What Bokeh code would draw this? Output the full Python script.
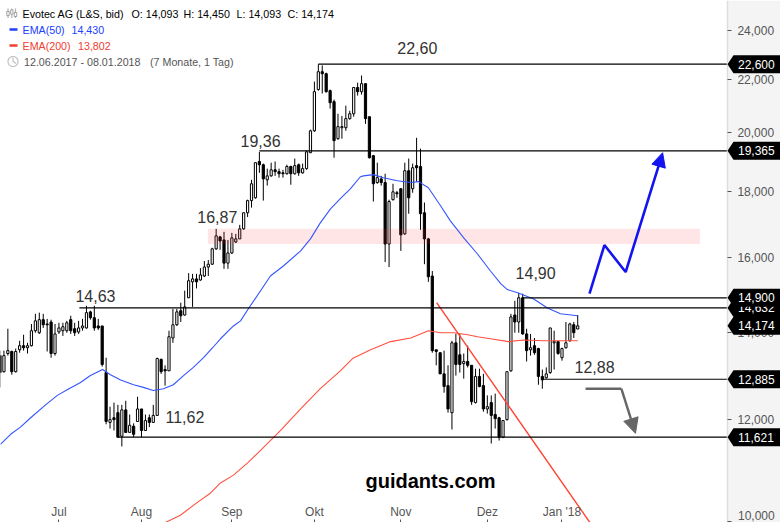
import numpy as np
from bokeh.plotting import figure
from bokeh.embed import file_html
from bokeh.resources import INLINE
from bokeh.core.properties import value
from bokeh.models import (Range1d, FixedTicker, LinearAxis, LogAxis, Label, PolyAnnotation,
                          Arrow, NormalHead)

ohlc_rows = """
13.44 13.56 12.70 13.04
13.06 13.56 13.04 13.44
13.49 14.10 13.44 13.56
13.54 13.56 12.99 13.06
13.06 13.61 13.04 13.54
13.58 13.80 13.51 13.68
13.68 13.95 13.56 13.63
13.63 13.75 13.49 13.68
13.68 14.22 13.66 14.05
14.05 14.48 14.00 14.30
14.00 14.51 13.97 14.33
14.33 14.48 14.12 14.20
14.22 14.35 13.54 14.20
14.27 14.33 13.39 13.49
13.49 14.22 13.44 13.97
14.02 14.25 13.97 14.12
14.05 14.25 13.92 14.15
14.05 14.30 14.00 14.25
14.33 14.43 13.97 14.05
14.10 14.25 13.92 14.00
14.02 14.30 13.97 14.12
14.12 14.35 14.05 14.17
14.12 14.69 14.10 14.51
14.53 14.56 14.33 14.38
14.38 14.69 14.05 14.12
14.17 14.35 14.07 14.12
14.17 14.17 13.18 13.23
13.04 13.39 11.89 11.95
11.93 12.27 11.80 11.99
12.03 12.36 11.76 11.99
12.14 12.31 11.62 11.62
11.64 12.31 11.43 12.20
12.20 12.40 11.72 11.72
11.72 12.10 11.72 11.87
11.85 11.91 11.62 11.68
11.95 12.49 11.95 12.22
12.22 12.22 11.62 11.76
11.76 12.10 11.76 11.97
12.03 12.10 11.83 11.93
11.93 12.31 11.93 12.08
12.08 13.39 12.08 13.37
13.35 13.37 13.01 13.06
13.11 13.21 12.74 13.08
13.08 14.05 13.08 13.90
13.87 14.61 13.75 14.20
14.20 14.61 14.17 14.53
14.56 14.77 14.27 14.43
14.45 15.09 14.43 14.66
14.90 15.57 14.90 15.36
15.33 15.55 14.66 15.41
15.41 15.55 15.15 15.33
15.38 15.71 15.36 15.52
15.49 15.91 15.46 15.74
15.74 15.94 15.49 15.82
15.82 16.29 15.80 16.26
16.26 16.85 16.23 16.64
16.61 16.64 16.23 16.49
16.52 16.76 15.69 15.85
15.85 16.52 15.69 16.14
16.14 16.73 16.11 16.58
16.46 16.70 16.43 16.55
16.55 16.97 16.55 16.85
16.85 17.34 16.82 17.34
17.34 17.75 17.21 17.72
17.72 18.39 17.50 18.26
17.81 18.96 17.78 18.96
19.00 19.33 18.62 18.89
18.89 18.93 17.72 18.42
18.39 18.76 18.20 18.52
18.52 18.96 18.49 18.72
18.72 19.00 18.52 18.66
18.66 18.76 18.46 18.59
18.62 18.72 18.46 18.59
18.59 18.89 18.56 18.83
18.83 18.86 18.23 18.59
18.59 19.10 18.56 18.86
18.89 18.93 18.52 18.62
18.62 18.93 18.59 18.76
18.76 19.37 18.72 19.33
19.30 20.11 19.30 20.07
20.07 21.91 20.03 21.52
21.60 22.60 21.56 22.30
22.30 22.55 21.45 22.22
22.22 22.26 21.48 21.52
21.56 21.60 20.88 21.10
21.14 21.22 19.13 19.72
19.79 20.69 19.75 20.22
20.18 20.61 19.79 20.22
20.18 20.99 20.07 20.51
20.51 20.80 20.47 20.69
20.69 21.68 20.58 21.68
21.68 21.87 21.37 21.52
21.52 22.15 21.41 21.83
21.83 21.83 20.32 20.51
20.58 20.58 19.10 19.13
19.20 19.20 17.69 18.26
18.30 18.96 18.26 18.46
18.42 18.52 18.20 18.30
18.30 18.59 15.88 16.40
16.40 17.75 15.74 17.69
17.75 18.26 17.72 18.00
17.97 18.03 17.81 17.94
18.10 18.10 16.20 16.67
16.70 18.96 16.67 18.69
18.69 19.10 17.31 17.81
18.10 18.93 17.97 18.79
18.86 19.82 18.33 18.79
18.83 19.44 16.82 17.31
17.34 17.66 15.82 16.55
16.55 16.58 15.33 15.47
15.49 15.63 13.51 13.56
13.58 13.58 13.21 13.54
13.51 13.51 13.01 13.01
13.01 13.56 12.58 12.72
12.74 13.21 12.14 12.22
12.14 13.80 11.78 13.75
13.75 13.97 12.97 13.23
13.46 13.97 13.04 13.23
13.25 13.49 12.90 13.30
13.30 13.68 13.16 13.21
13.21 13.21 12.31 12.38
12.36 13.13 12.34 12.95
12.95 13.13 12.70 12.72
12.74 13.01 12.16 12.22
12.22 12.52 12.12 12.27
12.36 12.52 11.49 12.08
12.10 12.56 11.80 12.01
12.03 12.05 11.55 11.62
11.62 11.97 11.60 11.97
11.99 13.06 11.97 13.06
13.08 14.48 13.06 14.40
14.45 14.82 14.00 14.27
14.27 15.03 14.00 14.90
14.90 15.01 13.95 13.97
13.97 14.10 13.30 13.56
13.58 13.97 13.44 13.63
13.68 13.87 13.46 13.51
13.61 13.63 12.76 12.95
12.95 13.11 12.67 12.87
12.92 13.16 12.90 13.01
13.04 14.12 13.01 14.12
13.75 14.05 13.11 13.78
13.78 13.80 13.46 13.49
13.39 13.63 13.32 13.61
13.63 14.27 13.61 13.75
13.80 14.25 13.78 14.22
14.20 14.27 13.87 14.00
14.093 14.45 14.093 14.174
"""
rows = [[float(v) for v in line.split()] for line in ohlc_rows.strip().splitlines()]
opens = [r[0] for r in rows]
highs = [r[1] for r in rows]
lows = [r[2] for r in rows]
closes = [r[3] for r in rows]

ema50_idx = [0.1,2.7,5.2,7.8,11.6,14.6,17.2,20.5,23,26.1,28.1,30.7,34,36.5,39,41.6,44.1,46.7,49.2,51.8,54.1,56.1,59.4,61.2,63.2,66.3,68.8,72.1,76.5,79,81.5,84.1,86.6,89.2,91.7,92.5,95,97.6,101.1,104.5,106.5,109,112.1,114.6,118,121.5,124.8,127.4,129.1,131.9,135.8,139.3,142.6,147]
ema50_val = [11.47,11.68,11.83,12.03,12.31,12.52,12.65,12.81,12.97,13.11,12.99,12.87,12.76,12.70,12.63,12.67,12.76,12.97,13.16,13.39,13.63,13.85,14.17,14.30,14.61,15.09,15.49,15.77,16.20,16.55,17.03,17.46,17.78,18.10,18.49,18.52,18.56,18.46,18.36,18.30,18.33,18.13,17.56,17.09,16.58,16.11,15.63,15.28,15.12,15.03,14.87,14.63,14.48,14.43]
ema200_idx = [42.1,45.9,50.3,53.6,56.1,59.4,63,66.3,71.4,76.5,81.5,86.6,89.7,94.3,99.4,104.5,107,109,112.1,115.4,119,121.5,124.8,129.4,133.2,138.3,147]
ema200_val = [9.98,10.11,10.35,10.52,10.71,10.86,11.10,11.35,11.76,12.22,12.67,13.08,13.37,13.58,13.78,13.87,13.97,14.05,14.00,14.00,13.95,13.90,13.85,13.78,13.82,13.80,13.80]

level_values = [22.6, 19.365, 14.632, 14.9, 12.885, 11.621]
level_starts = [81, 66, 20.2, 133, 138, 30]
tag_values = [14.632, 22.6, 19.365, 14.9, 14.174, 12.885, 11.621]
tag_labels = ["14,632", "22,600", "19,365", "14,900", "14,174", "12,885", "11,621"]
note_labels = ["22,60", "19,36", "16,87", "14,63", "14,90", "12,88", "11,62"]
note_idx = [101.1, 61.2, 50.2, 19.2, 131.2, 146.2, 42.1]
note_val = [23.26, 19.70, 17.2, 14.96, 15.56, 13.18, 12.04]
month_idx = [15, 36, 59, 80, 102, 124, 143]
month_labels = ["Jul", "Aug", "Sep", "Okt", "Nov", "Dez", "Jan '18"]
price_ticks = [10, 12, 14, 16, 18, 20, 22, 24]
price_labels = ["", "12,000", "14,000", "16,000", "18,000", "20,000", "22,000", "24,000"]
band_low, band_high = 16.4, 16.85
band_idx = [52.9, 178.1]
trend_idx = [111.1, 150.3]
trend_val = [14.77, 9.96]
up_idx = [150.0, 153.8, 159.2, 168.0]
up_val = [15.01, 16.37, 15.60, 19.03]
up_tip = (168.6, 19.3)
down_idx = [149.0, 158.1]
down_val = [12.67, 12.67]
down_tip = (161.7, 11.70)

x0_idx, axis_idx, x1_idx = 0.127, 185.1, 198.6
y_low, y_high = 9.98, 25.32

FONT = "Liberation Sans"
p = figure(width=780, height=522, output_backend="svg", toolbar_location=None,
           x_range=Range1d(x0_idx, x1_idx), y_range=Range1d(y_low, y_high), y_axis_type="log",
           x_axis_location=None, y_axis_location=None,
           min_border_left=0, min_border_top=0, min_border_bottom=0, min_border_right=0)
p.grid.visible = False
p.outline_line_color = None
p.background_fill_color = "#ffffff"
p.border_fill_color = "#ffffff"

# grey scale strip on the right
p.quad(left=[axis_idx], right=[x1_idx], bottom=[y_low], top=[y_high],
       fill_color="#f4f4f4", line_color=None)

yax = LogAxis(ticker=FixedTicker(ticks=price_ticks), fixed_location=axis_idx,
              major_label_overrides=dict(zip(price_ticks, price_labels)),
              major_label_text_font=FONT, major_label_text_font_size="12px",
              major_label_text_color="#555555", major_tick_out=4, major_tick_in=0,
              major_tick_line_color="#555555", minor_tick_line_color=None,
              axis_line_color="#dddddd", axis_line_width=1.5, major_label_standoff=6)
p.add_layout(yax, "right")
xax = LinearAxis(ticker=FixedTicker(ticks=month_idx),
                 major_label_overrides=dict(zip(month_idx, month_labels)),
                 major_label_text_font=FONT, major_label_text_font_size="12px",
                 major_label_text_color="#555555", major_tick_out=0, major_tick_in=3,
                 major_tick_line_color="#555555", minor_tick_line_color=None,
                 axis_line_color=None, major_label_standoff=-18)
p.add_layout(xax, "below")

idx = np.arange(len(opens))
o, h, l, c = map(np.array, (opens, highs, lows, closes))
up = c >= o
p.segment(idx, h, idx, l, color="#000000", line_width=1)
p.vbar(idx[up], 0.56, o[up], c[up], fill_color="#ffffff", line_color="#000000", line_width=1)
p.vbar(idx[~up], 0.56, c[~up], o[~up], fill_color="#000000", line_color="#000000", line_width=1)

p.quad(left=[band_idx[0]], right=[band_idx[1]], bottom=[band_low], top=[band_high],
       fill_color="#ff3333", fill_alpha=0.13, line_color=None)

p.line(ema50_idx, ema50_val, line_color="#3355ff", line_width=1.1)
p.line(ema200_idx, ema200_val, line_color="#ff5040", line_width=1.1)
p.line(trend_idx, trend_val, line_color="#ff4433", line_width=1.4)

p.segment(level_starts, level_values, [axis_idx] * len(level_values), level_values,
          line_color="#000000", line_width=1.2)

p.line(up_idx, up_val, line_color="#1414f0", line_width=2.6)
p.add_layout(Arrow(end=NormalHead(size=14, fill_color="#1414f0", line_color="#1414f0"),
                   x_start=up_idx[-1], y_start=up_val[-1], x_end=up_tip[0], y_end=up_tip[1],
                   line_color="#1414f0", line_width=2.6))
p.line(down_idx, down_val, line_color="#666666", line_width=2.4)
p.add_layout(Arrow(end=NormalHead(size=15, fill_color="#666666", line_color="#666666"),
                   x_start=down_idx[-1], y_start=down_val[-1], x_end=down_tip[0], y_end=down_tip[1],
                   line_color="#666666", line_width=2.4))

p.text(note_idx, note_val, text=note_labels, text_font=value(FONT), text_font_size="16px",
       text_color="#333333", text_baseline="alphabetic", text_align="left")
p.text([93], [10.74], text=["guidants.com"], text_font=value(FONT), text_font_size="20px",
       text_font_style="bold", text_color="#000000", text_baseline="alphabetic", text_align="left")

# price tags on the right-hand scale
k = np.exp(9 / 560)
for v, lab in zip(tag_values, tag_labels):
    p.add_layout(PolyAnnotation(xs=[727, 733, 780, 780, 733],
                                ys=[v, v * k, v * k, v / k, v / k],
                                xs_units="canvas", ys_units="data",
                                fill_color="#000000", fill_alpha=1, line_color=None))
    p.add_layout(Label(x=737.5, y=v, x_units="canvas", y_units="data", text=lab,
                       text_color="#ffffff", text_font=FONT, text_font_size="12px",
                       text_baseline="middle", text_align="left"))
p.add_layout(Label(x=737.5, y=514.5, x_units="canvas", y_units="canvas", text="10,000",
                   text_color="#555555", text_font=FONT, text_font_size="12px",
                   text_baseline="middle", text_align="left"))

# header
def head(x, y, text, color="#000000"):
    p.add_layout(Label(x=x, y=y, x_units="canvas", y_units="canvas", text=text, text_color=color,
                       text_font=FONT, text_font_size="10.7px", text_baseline="middle",
                       text_align="left"))

def deco(xs, ys, fill, line="#000000", alpha=1, width=1.2):
    p.add_layout(PolyAnnotation(xs=xs, ys=ys, xs_units="canvas", ys_units="canvas",
                                fill_color=fill, fill_alpha=alpha, line_color=line, line_width=width))

head(22, 13, "Evotec AG (L&S, bid)")
head(131, 13, "O: 14,093")
head(183, 13, "H: 14,450")
head(236, 13, "L: 14,093")
head(287, 13, "C: 14,174")
head(22, 29, "EMA(50)", "#2040ff")
head(71, 29, "14,430", "#2040ff")
head(22, 45, "EMA(200)", "#f04030")
head(77.5, 45, "13,802", "#f04030")
head(23.5, 61, "12.06.2017 - 08.01.2018", "#555555")
head(149.5, 61, "(7 Monate, 1 Tag)", "#555555")

deco([9, 17, 17, 9], [27.7, 27.7, 30.3, 30.3], "#2040ff", None)
deco([9, 17, 17, 9], [43.7, 43.7, 46.3, 46.3], "#f04030", None)
for cx, t, b in [(7.5, 11, 15), (11.3, 9.5, 13.5), (15, 12, 16)]:
    deco([cx, cx], [8, 17.5], "#000000")
    deco([cx - 1.2, cx + 1.2, cx + 1.2, cx - 1.2], [t, t, b, b], "#ffffff")
ang = np.linspace(0, 2 * np.pi, 40)
deco(list(12.5 + 5 * np.cos(ang)), list(61 + 5 * np.sin(ang)), "#ffffff", "#333333")
deco([12.5, 12.5, 15.5, 12.5], [57.5, 61, 63, 61], "#ffffff", "#333333", 0)

open("out.html", "w").write(file_html(p, INLINE))
